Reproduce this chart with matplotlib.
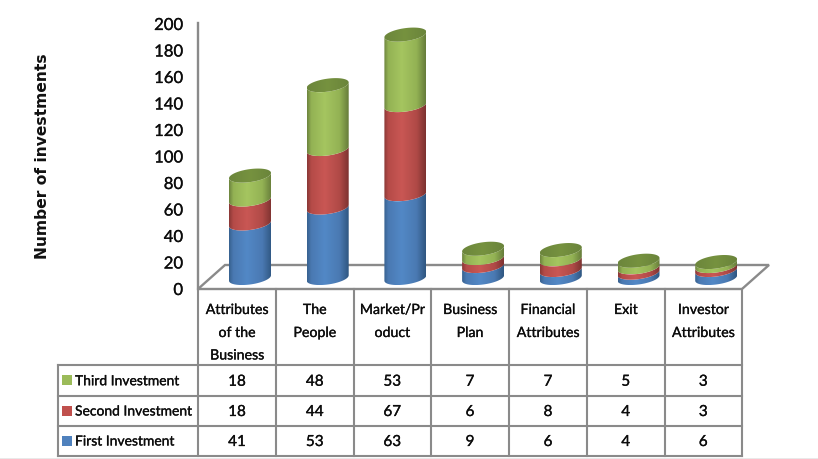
import numpy as np
import matplotlib
matplotlib.use("Agg")
import matplotlib.pyplot as plt
import matplotlib.patheffects as pe
from matplotlib.colors import LinearSegmentedColormap
from matplotlib.patches import Polygon, Rectangle

categories = ["Attributes\nof the\nBusiness", "The\nPeople", "Market/Pr\noduct",
              "Business\nPlan", "Financial\nAttributes", "Exit", "Investor\nAttributes"]
first_investment = [41, 53, 63, 9, 6, 4, 6]
second_investment = [18, 44, 67, 6, 8, 4, 3]
third_investment = [18, 48, 53, 7, 7, 5, 3]
series_names = ["First Investment", "Second Investment", "Third Investment"]
series_values = [first_investment, second_investment, third_investment]
y_ticks = list(range(0, 201, 20))

W, H = 818, 459
FONT = "Lato"
LINE = "#8a8a8a"
INK = "#0c0c0c"
HEAVY = [pe.withStroke(linewidth=0.2, foreground=INK)]
STOPS = (0.0, 0.1, 0.42, 0.78, 1.0)
SHADES = [("#37618f", "#4a79b2", "#5288c6", "#4a79b2", "#2f5680"),
          ("#8a3836", "#b54b48", "#c95754", "#b04a47", "#7c3230"),
          ("#6d843f", "#93b254", "#a5c560", "#93b254", "#667c3a")]
SWATCHES = ["#4f81bd", "#c0504d", "#9bbb59"]
TOP_COLOURS = ("#6c863c", "#76923f", "#6a843b")

fig = plt.figure(figsize=(W / 100, H / 100), dpi=100, facecolor="white")

# Pixel-addressed layer for the frame, table and axis text
page = fig.add_axes([0, 0, 1, 1], zorder=1)
page.set_xlim(0, W)
page.set_ylim(H, 0)
page.axis("off")

# Category/value layer for the stacked cylinders
BAR_X0, BAR_DX = 250.0, 77.7
BAR_Y0, BAR_DY = 278.0, 1.33
chart = fig.add_axes([0, 0, 1, 1], zorder=2)
chart.patch.set_alpha(0)
chart.set_xlim(-BAR_X0 / BAR_DX, (W - BAR_X0) / BAR_DX)
chart.set_ylim((BAR_Y0 - H) / BAR_DY, BAR_Y0 / BAR_DY)
chart.axis("off")


def label(x, y, text, size=10.2, ha="center"):
    page.text(x, y, text, ha=ha, va="center_baseline", fontsize=size, family=FONT,
              color=INK, path_effects=HEAVY)


# Floor of the plot box
page.add_patch(Polygon([(198, 289), (225, 265), (769, 265), (742, 289)], closed=True,
                       fill=False, edgecolor=LINE, linewidth=1.7))

# Value axis
page.plot([197.5, 197.5], [23, 289], color=LINE, lw=1.7)
for tick in y_ticks:
    label(183, 288.5 - 1.325 * tick, str(tick), size=12.0, ha="right")
page.text(43, 156, "Number of investments", rotation=90, ha="center", va="center",
          fontsize=11.2, fontweight="bold", family="DejaVu Sans", color="#111111")

# Data table
col_edges = [198, 276, 353.5, 431, 509, 587, 664.5, 742]
row_edges = [365, 395.5, 425.5, 455.5]
for x in col_edges:
    page.plot([x, x], [289, row_edges[-1]], color=LINE, lw=1.5)
for y in row_edges:
    page.plot([57.5, 742], [y, y], color=LINE, lw=1.5)
page.plot([57.5, 57.5], [row_edges[0], row_edges[-1]], color=LINE, lw=1.5)

line_ys = [309, 332, 354.5]
for i, name in enumerate(categories):
    cx = (col_edges[i] + col_edges[i + 1]) / 2
    for ly, part in zip(line_ys, name.split("\n")):
        label(cx, ly, part)

for row, s in enumerate([2, 1, 0]):
    cy = (row_edges[row] + row_edges[row + 1]) / 2
    page.add_patch(Rectangle((62, cy - 5), 9.5, 10, facecolor=SWATCHES[s], edgecolor="none"))
    label(75, cy, series_names[s], size=10.0, ha="left")
    for i, value in enumerate(series_values[s]):
        cx = (col_edges[i] + col_edges[i + 1]) / 2
        label(cx, cy, str(value), size=11)

# Thin grey strip along the lower edge of the page
page.add_patch(Rectangle((0, 457.5), W, 2, facecolor="#e9e9e9", edgecolor="none"))


def rim(cat, level, start, stop, n=60):
    """Points on a tilted elliptical rim, in category/value coordinates."""
    t = np.linspace(start, stop, n)
    x = cat + 21.0 / BAR_DX * np.cos(t)
    y = level + (2.7 * np.cos(t) + 6.5 * np.sin(t)) / BAR_DY
    return np.column_stack([x, y])


def shaded(points, colours, stops, cat, zorder):
    """Fill an outline with a left-to-right cylinder gradient."""
    cmap = LinearSegmentedColormap.from_list("cyl", list(zip(stops, colours)))
    half = 21.0 / BAR_DX
    ys = points[:, 1]
    image = chart.imshow(np.linspace(0, 1, 128)[None, :], cmap=cmap, aspect="auto",
                         extent=(cat - half, cat + half, ys.min(), ys.max()),
                         zorder=zorder, interpolation="bilinear")
    outline = Polygon(points, closed=True, transform=chart.transData)
    image.set_clip_path(outline)


xlim, ylim = chart.get_xlim(), chart.get_ylim()
for cat in range(len(categories)):
    level = 0
    for s, values in enumerate(series_values):
        top = level + values[cat]
        lower = rim(cat, level, np.pi, 2 * np.pi)
        upper = rim(cat, top, 2 * np.pi, np.pi)
        shaded(np.vstack([lower, upper]), SHADES[s], STOPS, cat, 3 + s)
        level = top
    shaded(rim(cat, level, 0, 2 * np.pi, 120), TOP_COLOURS, (0.0, 0.5, 1.0), cat, 7)
chart.set_xlim(xlim)
chart.set_ylim(ylim)

fig.savefig("out.png", dpi=100)
